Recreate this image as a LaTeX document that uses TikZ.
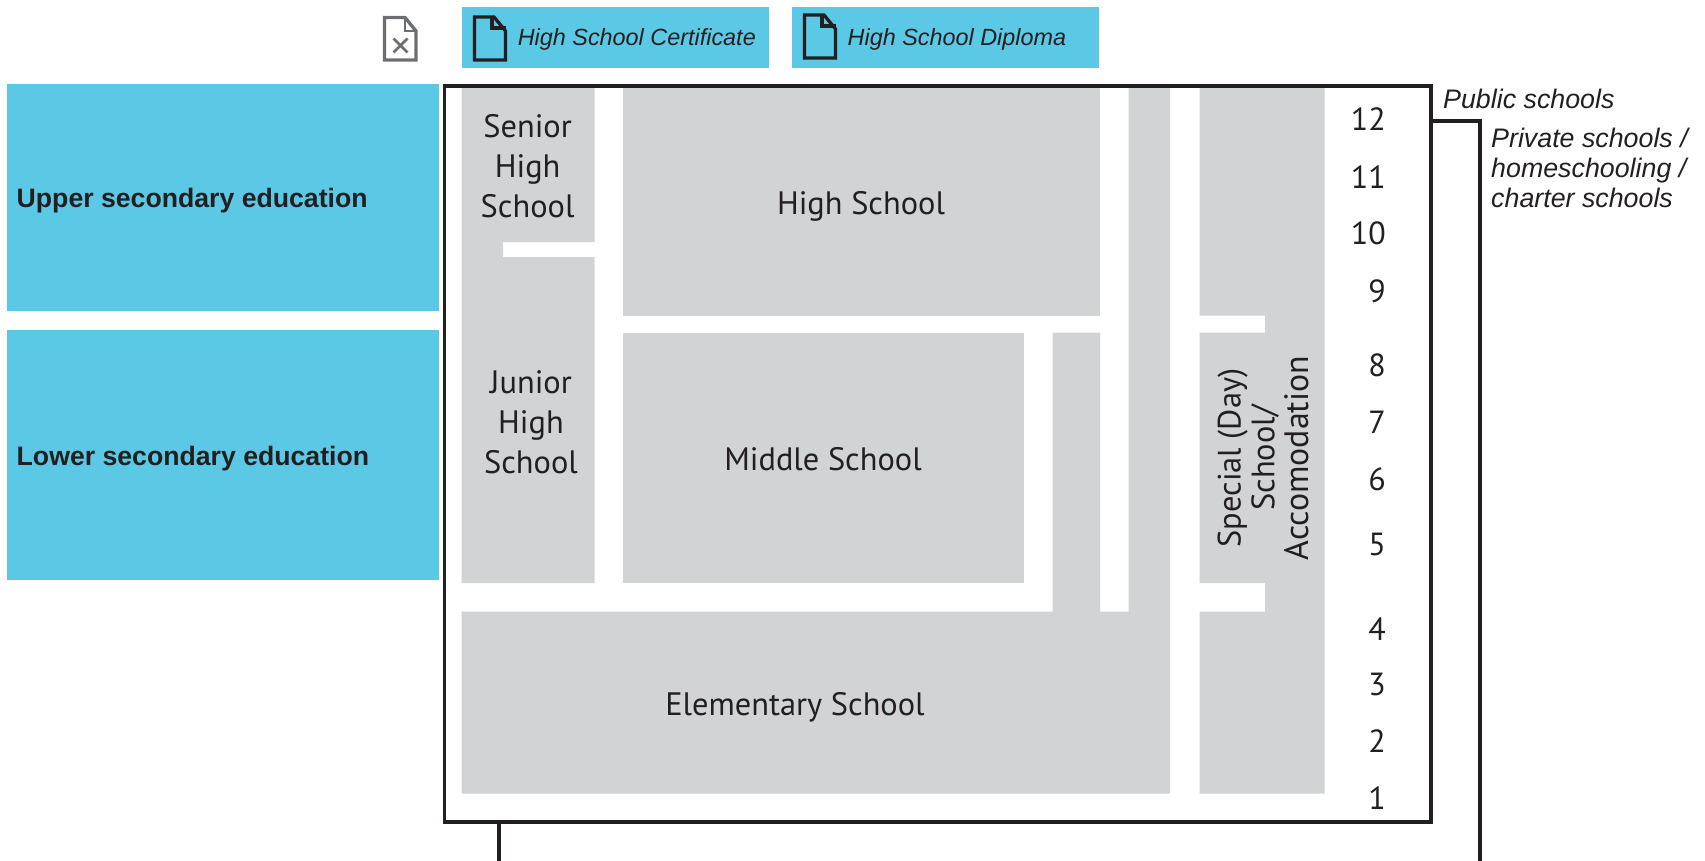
\documentclass[tikz,border=0pt]{standalone}
\usepackage{fontspec}
\setmainfont{PT Sans}
\newfontfamily\lab{Liberation Sans}
\definecolor{skyb}{HTML}{5BC9E5}
\definecolor{grayb}{HTML}{D1D3D4}
\definecolor{inkk}{HTML}{231F20}
\definecolor{icong}{HTML}{6D6E71}
\tikzset{
  x=1pt,y=-1pt,
  bluebox/.style={fill=skyb,draw=none,outer sep=0pt,inner sep=0pt},
  frameline/.style={draw=inkk,line width=3.1pt,line cap=butt,line join=miter},
  bracketline/.style={draw=inkk,line width=3.1pt,line cap=butt,line join=miter},
  doc/.style={draw=inkk,line width=3.3pt,line join=miter},
  schooltext/.style={font=\fontsize{32.4}{40}\selectfont,text=inkk,align=center,inner sep=0pt},
  gradetext/.style={font=\fontsize{32}{36}\selectfont,text=inkk,anchor=east,inner sep=0pt},
  sidetext/.style={font=\lab\bfseries\fontsize{26.65}{30}\selectfont,text=inkk,anchor=west,inner sep=0pt},
  notetext/.style={font=\lab\itshape\fontsize{26.8}{30}\selectfont,text=inkk,anchor=west,align=left,inner sep=0pt},
  awardtext/.style={font=\lab\itshape\fontsize{23.4}{28}\selectfont,text=inkk,anchor=west,inner sep=0pt},
}
\begin{document}
\begin{tikzpicture}
\useasboundingbox (0,0) rectangle (1705,861);
% blue blocks
\node[bluebox,minimum width=432pt,minimum height=227pt,anchor=north west] (upper) at (7,84) {};
\node[bluebox,minimum width=432pt,minimum height=249.5pt,anchor=north west] (lower) at (7,330) {};
\node[bluebox,minimum width=307pt,minimum height=60.7pt,anchor=north west] (cert) at (462,7) {};
\node[bluebox,minimum width=307pt,minimum height=60.7pt,anchor=north west] (dipl) at (792,7) {};
% grey blocks
\fill[grayb] (461.6,86) -- (594.7,86) -- (594.7,242) -- (503,242) -- (503,257) -- (594.7,257) -- (594.7,583) -- (461.6,583) -- cycle;
\fill[grayb] (623,86) rectangle (1100,315.7);
\fill[grayb] (623,332.7) rectangle (1023.7,583);
\fill[grayb] (461.6,611.7) -- (1052.5,611.7) -- (1052.5,332.7) -- (1100,332.7) -- (1100,611.7) -- (1128.7,611.7) -- (1128.7,86) -- (1170,86) -- (1170,793.6) -- (461.6,793.6) -- cycle;
\fill[grayb] (1199.5,86) -- (1324.5,86) -- (1324.5,793.6) -- (1199.5,793.6) -- (1199.5,611.7) -- (1265,611.7) -- (1265,583) -- (1199.5,583) -- (1199.5,332.7) -- (1265,332.7) -- (1265,315.7) -- (1199.5,315.7) -- cycle;
% frame and brackets
\node[frameline,inner sep=0pt,outer sep=0pt,minimum width=986.5pt,minimum height=736pt,anchor=north west] (frame) at (444.5,86) {};
\coordinate (privtop) at (1431,121);
\coordinate (privcorner) at (1480,121);
\coordinate (privend) at (1480,861);
\coordinate (pubtop) at (499,822);
\coordinate (pubend) at (499,861);
\draw[bracketline] (privtop) -- (privcorner) -- (privend);
\draw[bracketline] (pubtop) -- (pubend);
% document icons
\draw[doc,draw=icong] (384.5,17.5) -- (405,17.5) -- (416,31) -- (416,60) -- (384.5,60) -- cycle;
\draw[doc,draw=icong,line width=2.2pt] (405,17.5) -- (405,31) -- (416,31);
\draw[icong,line width=2.6pt] (393.5,38.5) -- (407.5,52.5) (407.5,38.5) -- (393.5,52.5);
\draw[doc] (474.5,17) -- (494,17) -- (505.5,31) -- (505.5,60) -- (474.5,60) -- cycle;
\draw[doc] (492,17) -- (492,28) -- (505.5,28);
\draw[doc] (804.5,15) -- (824,15) -- (835.5,29) -- (835.5,58) -- (804.5,58) -- cycle;
\draw[doc] (822,15) -- (822,26) -- (835.5,26);
% texts
\node[awardtext] (certt) at (517.6,39) {High School Certificate};
\node[awardtext] (diplt) at (847.5,39) {High School Diploma};
\node[sidetext] (uppert) at (16.5,201) {Upper secondary education};
\node[sidetext] (lowert) at (16.5,459) {Lower secondary education};
\node[notetext] (pub) at (1443,99) {Public schools};
\node[notetext] (priv) at (1491,168) {Private schools /\\homeschooling /\\charter schools};
\node[schooltext] (senior) at (527.6,166) {Senior\\High\\School};
\node[schooltext] (junior) at (531,422) {Junior\\High\\School};
\node[schooltext] (high) at (861,206) {High School};
\node[schooltext] (middle) at (823,459) {Middle School};
\node[schooltext] (elem) at (795,707) {Elementary School};
\node[schooltext,rotate=90,font=\fontsize{32.4}{33.7}\selectfont] (special) at (1263,458) {Special (Day)\\School/\\{\fontsize{33.8}{33.7}\selectfont Accomodation}};
\foreach \g/\yy in {12/119.2,11/176.7,10/233.7,9/291.2,8/365.7,7/422.7,6/479.7,5/544.7,4/629.2,3/684.7,2/741.2,1/798.2}{
  \node[gradetext] (g\g) at (1386,\yy) {\g};
}
\end{tikzpicture}
\end{document}
